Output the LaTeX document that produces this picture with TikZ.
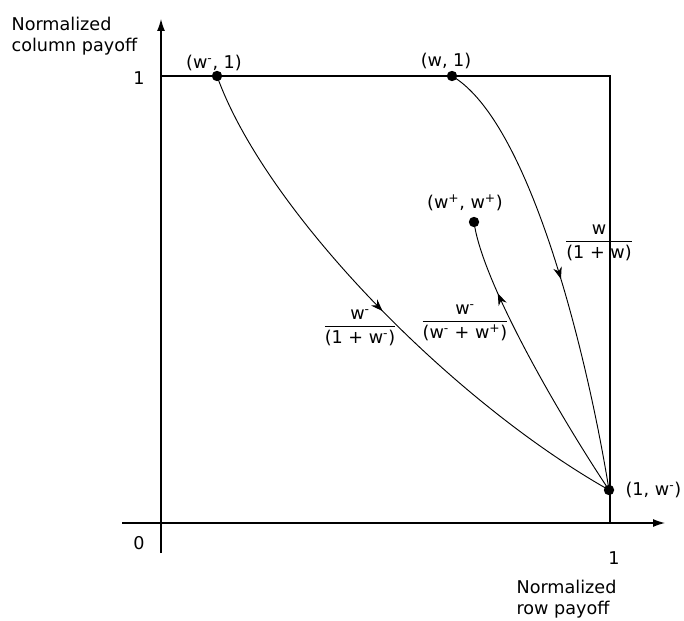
\documentclass[tikz,border=0pt]{standalone}
\usepackage{fontspec}
\setmainfont{DejaVu Sans}
\usetikzlibrary{arrows.meta,decorations.markings}
\newcommand\wminus{w\textsuperscript{-}}
\newcommand\wplus{w\textsuperscript{+}}
\newcommand\myfrac[2]{$\displaystyle{\mbox{#1}\above0.8pt\mbox{#2}}$}
\begin{document}
\begin{tikzpicture}[x=0.75pt,y=-0.75pt,
  axis/.style={line width=0.9pt,-{Latex[length=9pt,width=6pt]}},
  frame/.style={line width=0.9pt},
  curve/.style={line width=0.7pt},
  dot/.style={circle,fill=black,inner sep=0pt,minimum size=7.8pt},
  lbl/.style={inner sep=1pt,font=\fontsize{13.2}{15.5}\selectfont},
  midarrow/.style={postaction={decorate,decoration={markings,mark=at position #1 with {\arrow{Stealth[length=9pt,width=6.5pt]}}}}}]
\useasboundingbox (0,0) rectangle (684,620);
% axes
\coordinate (xs) at (122,523);
\coordinate (xe) at (665,523);
\coordinate (ys) at (161,553);
\coordinate (ye) at (161,19);
\draw[axis] (xs) -- (xe);
\draw[axis] (ys) -- (ye);
% frame
\coordinate (tl) at (161,76);
\coordinate (tr) at (610,76);
\coordinate (br) at (610,523);
\draw[frame] (tl) -- (tr) -- (br);
% points
\node[dot] (pwm) at (217,76) {};
\node[dot] (pw) at (452,76) {};
\node[dot] (pwp) at (474,222) {};
\node[dot] (p1) at (609,490) {};
% curves
\draw[curve,midarrow=0.5] (pwm.center) .. controls (265,210) and (450,400) .. (p1.center);
\draw[curve,midarrow=0.52] (pw.center) .. controls (532,123) and (589,365) .. (p1.center);
\draw[curve,midarrow=0.75] (p1.center) .. controls (559,415) and (482,282) .. (pwp.center);
% labels
\node[lbl,align=left,anchor=west] (ylab) at (10,36) {Normalized\\column payoff};
\node[lbl,align=left,anchor=west] (xlab) at (515,599) {Normalized\\row payoff};
\node[lbl] (one_y) at (139,78) {1};
\node[lbl] (zero) at (139,543) {0};
\node[lbl] (one_x) at (614,558) {1};
\node[lbl] (lwm) at (214,63) {(\wminus, 1)};
\node[lbl] (lw) at (446,61) {(w, 1)};
\node[lbl] (lwp) at (465,203) {(\wplus, \wplus)};
\node[lbl,anchor=west] (l1) at (624,490) {(1, \wminus)};
\node[lbl] (fa) at (360,328) {\myfrac{\wminus}{(1 + \wminus)}};
\node[lbl] (fc) at (465,323) {\myfrac{\wminus}{(\wminus{} + \wplus)}};
\node[lbl] (fb) at (599,243) {\myfrac{w}{(1 + w)}};
\end{tikzpicture}
\end{document}
